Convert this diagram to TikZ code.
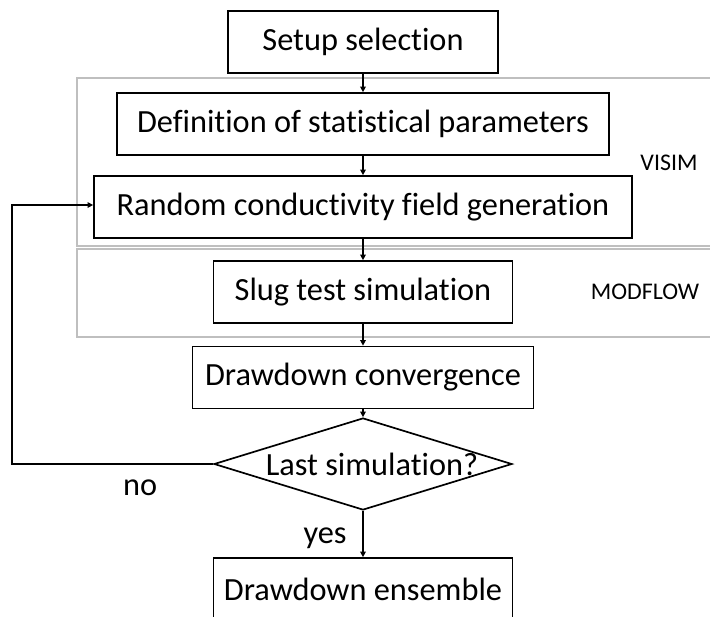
\documentclass[tikz,border=0pt]{standalone}
\usepackage{fontspec}
\setmainfont[Ligatures=NoCommon]{Carlito}
\usepackage{tikz}
\usetikzlibrary{positioning}
\usetikzlibrary{calc,arrows.meta}
\usetikzlibrary{shapes.geometric}

\tikzset{
	steptext/.style={font=\fontsize{23}{27}\selectfont},
	stepbox/.style={steptext, draw=black, line width=1.2pt, rectangle, minimum height=1.55cm, inner sep=0pt},
	testbox/.style={steptext, draw=black, line width=1.2pt, diamond, aspect=3.2, inner sep=0pt,
		minimum width=7.45cm, minimum height=2.3cm},
	toolframe/.style={draw=black!25, line width=1.2pt},
	toollabel/.style={font=\fontsize{17}{20}\selectfont},
	flow/.style={line width=0.9pt, -{Triangle[length=4pt,width=4pt]}},
}

\begin{document}
\begin{tikzpicture}
	
	\useasboundingbox (0,0) rectangle (17.75,-15.4);
	\clip (0,0) rectangle (17.75,-15.4);
	
	% NOTE: THE TWO GREY FRAMES RUN OFF THE RIGHT EDGE ON PURPOSE
	%		DRAW THEM FIRST SO THE BOXES SIT ON TOP
	\draw[toolframe] (1.925,-1.95) rectangle (18.00,-6.15);
	\draw[toolframe] (1.925,-6.225) rectangle (18.00,-8.425);
	
	% all steps share one vertical axis at x = 9.075cm
	\node[stepbox, minimum width=6.75cm]  (Setup) at (9.075,-1.05)   {Setup selection};
	\node[stepbox, minimum width=12.30cm] (Def)   at (9.075,-3.10)   {Definition of statistical parameters};
	\node[stepbox, minimum width=13.45cm] (Rand)  at (9.075,-5.175)  {Random conductivity field generation};
	\node[stepbox, minimum width=7.475cm] (Slug)  at (9.075,-7.30)   {Slug test simulation};
	\node[stepbox, minimum width=8.525cm] (Conv)  at (9.075,-9.4375) {Drawdown convergence};
	% zero-width text, so the diamond keeps its own size
	\node[testbox]                        (Last)  at (9.075,-11.60)  {\makebox[0pt]{\hspace{0.45cm}Last simulation?}};
	\node[stepbox, minimum width=7.475cm] (Ens)   at (9.075,-14.725) {Drawdown ensemble};
	
	\node[toollabel] (VisimLabel)   at (16.725,-4.075) {VISIM};
	\node[toollabel] (ModflowLabel) at (16.125,-7.30)  {MODFLOW};
	
	% loop back corner, left of the frames
	\coordinate (Back) at (0.30,-11.60);
	
	\node[steptext] (NoLabel)  at ($(Last.west)+(-1.825cm,-0.60cm)$)  {no};
	\node[steptext] (YesLabel) at ($(Last.south)+(-0.95cm,-0.675cm)$) {yes};
	
	%%%%%%%%%%%%%%%%%%%%%%%%%%%%%%%%%%%%%%%%%%%%%%%%%%%%%%%%%%%%%%
	\draw[flow] (Setup) -- (Def);
	\draw[flow] (Def)   -- (Rand);
	\draw[flow] (Rand)  -- (Slug);
	\draw[flow] (Slug)  -- (Conv);
	\draw[flow] (Conv)  -- (Last);
	\draw[flow] (Last)  -- (Ens);
	
	\draw[flow] (Last.west) -- (Back) |- ($(Rand.west)+(0,0.05cm)$);
	
\end{tikzpicture}
\end{document}
